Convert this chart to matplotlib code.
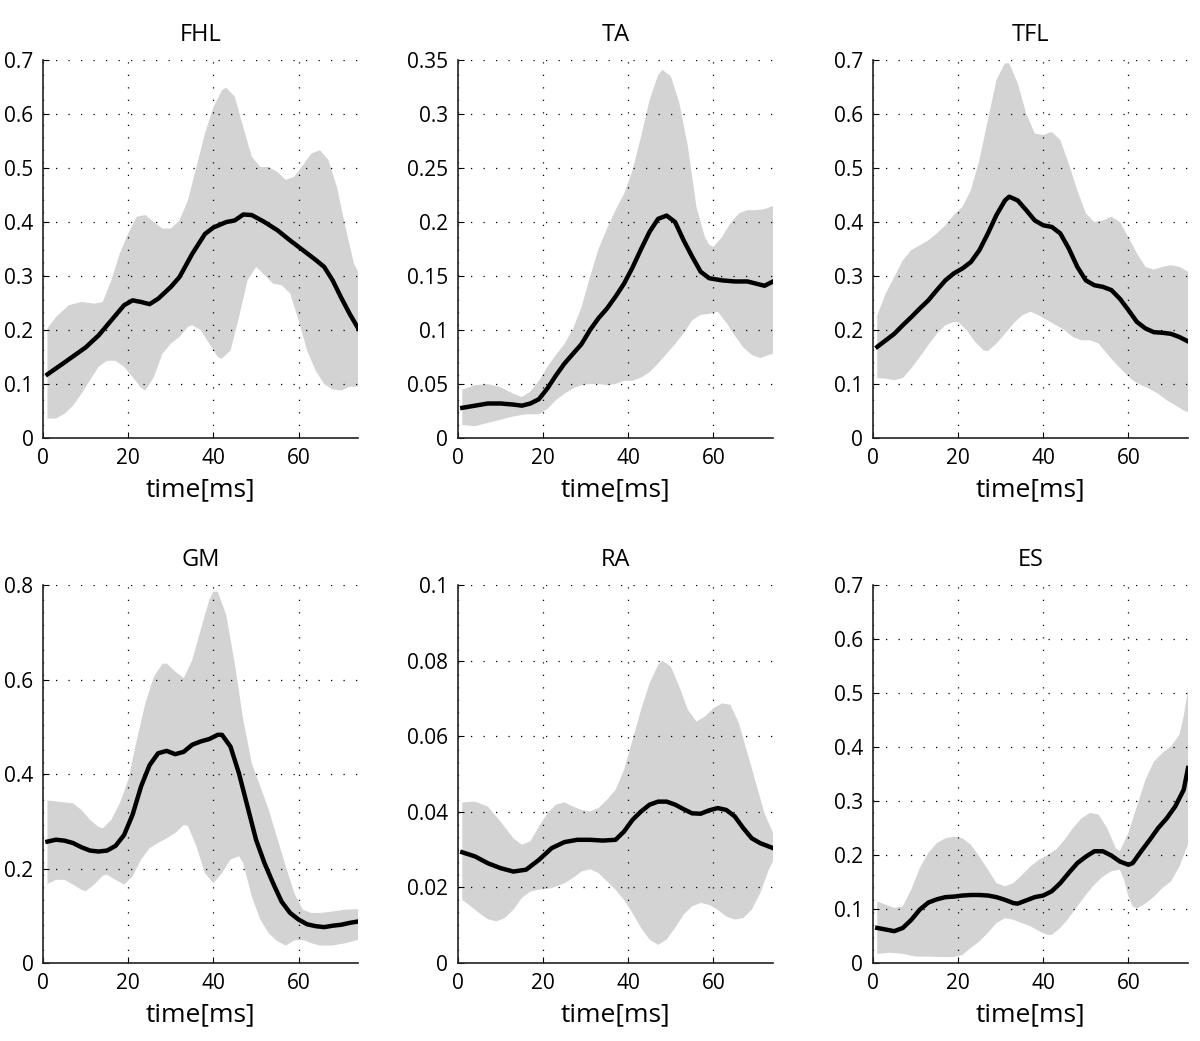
import matplotlib
matplotlib.use("Agg")
import matplotlib.pyplot as plt
import numpy as np

plt.rcParams['font.family'] = ['Open Sans', 'DejaVu Sans']

# ---- FHL ----
fhl_t_mean = [1, 5, 10, 13, 16, 19, 21, 23, 25, 27, 30, 32, 35, 38, 40, 43, 45, 47, 49, 52, 55, 58, 61, 64, 66, 68, 70, 72, 74]
fhl_mean = [0.118, 0.14, 0.168, 0.19, 0.218, 0.246, 0.255, 0.252, 0.248, 0.258, 0.28, 0.298, 0.341, 0.378, 0.39, 0.40, 0.403, 0.414, 0.413, 0.40, 0.385, 0.366, 0.348, 0.33, 0.317, 0.292, 0.26, 0.23, 0.203]
fhl_t_hi = [1, 3, 6, 9, 12, 14, 16, 18, 20, 22, 24, 26, 28, 30, 32, 34, 36, 38, 40, 42, 43, 45, 47, 49, 51, 53, 55, 57, 59, 61, 63, 65, 67, 69, 71, 73, 74]
fhl_hi = [0.203, 0.224, 0.246, 0.252, 0.249, 0.252, 0.292, 0.342, 0.379, 0.41, 0.413, 0.40, 0.388, 0.388, 0.403, 0.44, 0.502, 0.564, 0.613, 0.644, 0.649, 0.632, 0.576, 0.521, 0.502, 0.502, 0.493, 0.478, 0.484, 0.505, 0.527, 0.533, 0.515, 0.465, 0.391, 0.323, 0.308]
fhl_t_lo = [1, 3, 5, 7, 9, 11, 13, 15, 17, 19, 21, 23, 24, 26, 28, 30, 32, 34, 35, 37, 39, 41, 42, 44, 46, 48, 50, 52, 54, 56, 58, 60, 62, 64, 66, 68, 70, 72, 74]
fhl_lo = [0.036, 0.036, 0.045, 0.06, 0.082, 0.107, 0.132, 0.143, 0.143, 0.132, 0.113, 0.093, 0.088, 0.113, 0.156, 0.175, 0.187, 0.206, 0.209, 0.2, 0.175, 0.15, 0.147, 0.162, 0.224, 0.292, 0.317, 0.302, 0.286, 0.283, 0.268, 0.218, 0.162, 0.125, 0.1, 0.09, 0.088, 0.095, 0.095]

# ---- TA ----
ta_t_mean = [1, 4, 7, 10, 13, 15, 17, 19, 21, 23, 25, 27, 29, 31, 33, 35, 37, 39, 41, 43, 45, 47, 49, 51, 53, 55, 57, 59, 62, 65, 68, 70, 72, 74]
ta_mean = [0.028, 0.030, 0.032, 0.032, 0.031, 0.030, 0.032, 0.036, 0.046, 0.058, 0.069, 0.078, 0.087, 0.10, 0.111, 0.12, 0.131, 0.143, 0.158, 0.175, 0.191, 0.203, 0.206, 0.20, 0.183, 0.168, 0.154, 0.148, 0.146, 0.145, 0.145, 0.143, 0.141, 0.145]
ta_t_hi = [1, 4, 7, 10, 13, 15, 17, 19, 21, 23, 25, 27, 29, 31, 33, 35, 37, 39, 41, 43, 45, 47, 48, 50, 52, 54, 56, 58, 59, 60, 62, 64, 66, 68, 70, 72, 74]
ta_hi = [0.045, 0.049, 0.050, 0.047, 0.041, 0.038, 0.043, 0.053, 0.066, 0.077, 0.087, 0.101, 0.121, 0.149, 0.175, 0.194, 0.211, 0.226, 0.248, 0.279, 0.313, 0.336, 0.341, 0.335, 0.31, 0.27, 0.214, 0.186, 0.179, 0.177, 0.186, 0.199, 0.208, 0.211, 0.211, 0.212, 0.215]
ta_t_lo = [1, 4, 7, 10, 13, 16, 19, 21, 23, 25, 27, 29, 31, 33, 35, 37, 39, 41, 43, 45, 47, 49, 51, 53, 55, 57, 59, 61, 63, 65, 67, 69, 71, 73, 74]
ta_lo = [0.012, 0.011, 0.014, 0.017, 0.020, 0.022, 0.022, 0.027, 0.035, 0.041, 0.046, 0.049, 0.050, 0.050, 0.049, 0.050, 0.053, 0.053, 0.056, 0.061, 0.069, 0.078, 0.087, 0.097, 0.109, 0.114, 0.115, 0.117, 0.107, 0.095, 0.084, 0.077, 0.074, 0.077, 0.078]

# ---- TFL ----
tfl_t_mean = [1, 3, 5, 7, 9, 11, 13, 15, 17, 19, 21, 23, 25, 27, 29, 31, 32, 34, 36, 38, 40, 42, 44, 46, 48, 50, 52, 54, 56, 58, 60, 62, 64, 66, 68, 70, 72, 74]
tfl_mean = [0.169, 0.181, 0.193, 0.209, 0.224, 0.240, 0.255, 0.274, 0.292, 0.305, 0.314, 0.326, 0.348, 0.379, 0.413, 0.44, 0.447, 0.44, 0.422, 0.403, 0.394, 0.391, 0.379, 0.351, 0.317, 0.292, 0.283, 0.28, 0.274, 0.258, 0.237, 0.215, 0.203, 0.196, 0.195, 0.193, 0.187, 0.179]
tfl_t_hi = [1, 3, 5, 7, 9, 11, 13, 15, 17, 19, 21, 23, 25, 27, 29, 31, 32, 34, 36, 38, 40, 42, 44, 46, 48, 50, 52, 54, 56, 58, 60, 62, 64, 66, 68, 70, 72, 74]
tfl_hi = [0.227, 0.268, 0.298, 0.329, 0.348, 0.357, 0.366, 0.379, 0.394, 0.413, 0.428, 0.459, 0.515, 0.589, 0.663, 0.694, 0.694, 0.657, 0.601, 0.564, 0.561, 0.567, 0.552, 0.508, 0.459, 0.416, 0.40, 0.403, 0.41, 0.40, 0.372, 0.342, 0.317, 0.312, 0.317, 0.32, 0.317, 0.308]
tfl_t_lo = [1, 3, 5, 7, 9, 11, 13, 15, 17, 19, 20, 22, 24, 26, 27, 29, 31, 33, 35, 37, 39, 41, 43, 45, 47, 49, 51, 53, 55, 57, 59, 61, 63, 65, 67, 69, 71, 73, 74]
tfl_lo = [0.111, 0.11, 0.107, 0.111, 0.129, 0.15, 0.172, 0.193, 0.209, 0.215, 0.215, 0.2, 0.178, 0.162, 0.161, 0.175, 0.193, 0.212, 0.227, 0.234, 0.227, 0.218, 0.209, 0.20, 0.187, 0.181, 0.181, 0.175, 0.156, 0.138, 0.122, 0.107, 0.098, 0.091, 0.082, 0.07, 0.061, 0.051, 0.048]

# ---- GM ----
gm_t_mean = [1, 3, 5, 7, 9, 11, 13, 15, 17, 19, 21, 23, 25, 27, 29, 31, 33, 35, 37, 39, 41, 42, 44, 46, 48, 50, 52, 54, 56, 58, 60, 62, 64, 66, 68, 70, 72, 74]
gm_mean = [0.257, 0.261, 0.259, 0.254, 0.245, 0.238, 0.236, 0.238, 0.248, 0.271, 0.314, 0.374, 0.419, 0.444, 0.449, 0.442, 0.447, 0.462, 0.469, 0.474, 0.483, 0.483, 0.458, 0.401, 0.331, 0.261, 0.211, 0.169, 0.13, 0.106, 0.092, 0.082, 0.078, 0.076, 0.079, 0.081, 0.085, 0.088]
gm_t_hi = [1, 3, 5, 7, 9, 11, 13, 14, 16, 18, 20, 22, 24, 26, 28, 29, 31, 33, 35, 37, 39, 40, 41, 43, 45, 47, 49, 51, 53, 55, 57, 59, 61, 63, 65, 68, 71, 74]
gm_hi = [0.344, 0.342, 0.340, 0.338, 0.324, 0.303, 0.288, 0.285, 0.303, 0.338, 0.388, 0.472, 0.55, 0.606, 0.633, 0.634, 0.617, 0.603, 0.641, 0.705, 0.768, 0.786, 0.786, 0.737, 0.634, 0.515, 0.423, 0.374, 0.324, 0.264, 0.204, 0.148, 0.113, 0.106, 0.106, 0.109, 0.113, 0.114]
gm_t_lo = [1, 3, 5, 7, 9, 10, 12, 14, 15, 17, 19, 21, 23, 25, 27, 29, 31, 33, 34, 36, 38, 40, 42, 44, 46, 47, 49, 51, 53, 55, 57, 59, 61, 63, 65, 68, 71, 74]
gm_lo = [0.167, 0.176, 0.176, 0.166, 0.155, 0.152, 0.166, 0.185, 0.187, 0.176, 0.166, 0.183, 0.219, 0.243, 0.254, 0.264, 0.275, 0.292, 0.29, 0.247, 0.19, 0.169, 0.19, 0.219, 0.226, 0.211, 0.141, 0.092, 0.063, 0.046, 0.037, 0.048, 0.049, 0.042, 0.037, 0.037, 0.042, 0.049]

# ---- RA ----
ra_t_mean = [1, 4, 7, 10, 13, 16, 19, 22, 25, 28, 31, 34, 37, 39, 41, 43, 45, 47, 49, 51, 53, 55, 57, 59, 61, 63, 65, 67, 69, 71, 74]
ra_mean = [0.0293, 0.0282, 0.0264, 0.0251, 0.0242, 0.0247, 0.0273, 0.0304, 0.032, 0.0326, 0.0326, 0.0324, 0.0326, 0.0348, 0.0379, 0.0401, 0.0419, 0.0427, 0.0427, 0.0419, 0.0407, 0.0396, 0.0395, 0.0404, 0.041, 0.0405, 0.0388, 0.0357, 0.033, 0.0317, 0.0304]
ra_t_hi = [1, 4, 7, 10, 13, 15, 17, 19, 21, 23, 25, 27, 29, 31, 33, 35, 37, 39, 41, 43, 45, 47, 48, 50, 52, 54, 56, 58, 60, 62, 64, 66, 68, 70, 72, 74]
ra_hi = [0.0425, 0.0427, 0.0414, 0.0374, 0.033, 0.0313, 0.0322, 0.0361, 0.0396, 0.0419, 0.0425, 0.0414, 0.0405, 0.0401, 0.041, 0.0432, 0.0458, 0.0511, 0.059, 0.067, 0.074, 0.0789, 0.08, 0.0784, 0.0731, 0.067, 0.0639, 0.0652, 0.0674, 0.0687, 0.0683, 0.0634, 0.0555, 0.0476, 0.0396, 0.0344]
ra_t_lo = [1, 3, 5, 7, 9, 11, 13, 15, 17, 19, 22, 25, 27, 29, 31, 33, 35, 37, 39, 41, 43, 45, 47, 49, 51, 53, 55, 57, 59, 61, 63, 65, 67, 69, 71, 73, 74]
ra_lo = [0.0167, 0.015, 0.0132, 0.0116, 0.011, 0.0119, 0.0141, 0.0172, 0.0189, 0.0194, 0.0198, 0.0211, 0.0225, 0.0242, 0.0248, 0.0238, 0.0216, 0.0194, 0.0167, 0.0132, 0.0093, 0.0062, 0.0048, 0.0062, 0.0093, 0.0128, 0.015, 0.0159, 0.0154, 0.0141, 0.0123, 0.0115, 0.0119, 0.0141, 0.0185, 0.0247, 0.0269]

# ---- ES ----
es_t_mean = [1, 3, 5, 7, 9, 11, 13, 15, 17, 19, 21, 23, 25, 27, 29, 31, 33, 34, 36, 38, 40, 42, 44, 46, 48, 50, 52, 54, 56, 58, 60, 61, 63, 65, 67, 69, 71, 73, 74]
es_mean = [0.065, 0.062, 0.059, 0.065, 0.08, 0.099, 0.112, 0.118, 0.122, 0.123, 0.125, 0.126, 0.126, 0.125, 0.122, 0.117, 0.111, 0.11, 0.116, 0.122, 0.125, 0.133, 0.148, 0.167, 0.185, 0.197, 0.207, 0.207, 0.199, 0.188, 0.182, 0.185, 0.207, 0.228, 0.25, 0.268, 0.29, 0.321, 0.361]
es_t_hi = [1, 3, 5, 7, 9, 11, 13, 15, 17, 19, 21, 23, 25, 27, 29, 31, 33, 35, 37, 39, 41, 43, 45, 47, 49, 51, 53, 55, 57, 58, 60, 62, 64, 66, 68, 70, 72, 73, 74]
es_hi = [0.114, 0.108, 0.102, 0.105, 0.136, 0.176, 0.204, 0.222, 0.231, 0.234, 0.231, 0.219, 0.197, 0.173, 0.148, 0.142, 0.148, 0.163, 0.179, 0.191, 0.2, 0.21, 0.228, 0.25, 0.268, 0.278, 0.275, 0.25, 0.213, 0.207, 0.241, 0.29, 0.339, 0.373, 0.389, 0.401, 0.423, 0.457, 0.506]
es_t_lo = [1, 4, 7, 10, 13, 16, 19, 21, 23, 25, 27, 29, 31, 33, 35, 37, 39, 41, 42, 44, 46, 48, 50, 52, 54, 56, 58, 59, 60, 61, 62, 64, 66, 68, 70, 72, 74]
es_lo = [0.017, 0.019, 0.017, 0.012, 0.012, 0.011, 0.011, 0.015, 0.028, 0.04, 0.056, 0.074, 0.083, 0.08, 0.074, 0.068, 0.059, 0.052, 0.052, 0.065, 0.083, 0.105, 0.126, 0.145, 0.16, 0.17, 0.173, 0.154, 0.123, 0.105, 0.101, 0.11, 0.123, 0.139, 0.151, 0.179, 0.219]

titles = ['FHL', 'TA', 'TFL', 'GM', 'RA', 'ES']
ymax = [0.7, 0.35, 0.7, 0.8, 0.1, 0.7]
ystep = [0.1, 0.05, 0.1, 0.2, 0.02, 0.1]
xticks = [0, 20, 40, 60]

panels = [
    (fhl_t_mean, fhl_mean, fhl_t_hi, fhl_hi, fhl_t_lo, fhl_lo),
    (ta_t_mean, ta_mean, ta_t_hi, ta_hi, ta_t_lo, ta_lo),
    (tfl_t_mean, tfl_mean, tfl_t_hi, tfl_hi, tfl_t_lo, tfl_lo),
    (gm_t_mean, gm_mean, gm_t_hi, gm_hi, gm_t_lo, gm_lo),
    (ra_t_mean, ra_mean, ra_t_hi, ra_hi, ra_t_lo, ra_lo),
    (es_t_mean, es_mean, es_t_hi, es_hi, es_t_lo, es_lo),
]

fig = plt.figure(figsize=(12, 10.41), dpi=100)
lefts = [0.036, 0.3817, 0.7275]
bottoms = [0.5792, 0.0749]

for i, (tm, m, th, h, tl, l) in enumerate(panels):
    ax = fig.add_axes([lefts[i % 3], bottoms[i // 3], 0.2625, 0.3631])
    px = list(th) + list(tl)[::-1]
    py = list(h) + list(l)[::-1]
    ax.fill(px, py, color='#d3d3d3', lw=0, zorder=1)
    ax.plot(tm, m, color='black', lw=3.2, zorder=3, solid_joinstyle='round')
    ax.set_xlim(0, 74)
    ax.set_ylim(0, ymax[i])
    ax.set_xticks(xticks)
    yt = np.round(np.arange(0, ymax[i] + ystep[i] / 2, ystep[i]), 3)
    ax.set_yticks(yt)
    ax.set_yticklabels(['%g' % v for v in yt])
    ax.grid(True, color='black', linestyle=(0, (1, 9)), linewidth=0.9)
    ax.set_axisbelow(False)
    for s in ['top', 'right']:
        ax.spines[s].set_visible(False)
    for s in ['left', 'bottom']:
        ax.spines[s].set_linewidth(1.2)
        ax.spines[s].set_color('#222222')
        ax.spines[s].set_zorder(4)
    ax.tick_params(direction='in', length=4, labelsize=15, pad=7)
    ax.set_title(titles[i], fontsize=17, pad=14)
    ax.set_xlabel('time[ms]', fontsize=19, labelpad=6)

plt.savefig('out.png', dpi=100)
